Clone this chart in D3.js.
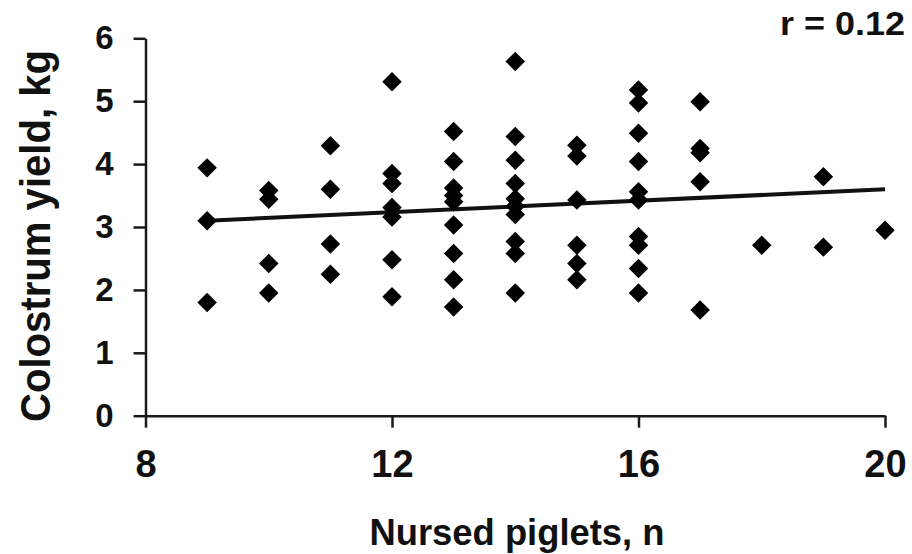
<!DOCTYPE html>
<html>
<head>
<meta charset="utf-8">
<script src="https://cdn.jsdelivr.net/npm/d3@7"></script>
<style>
  body { margin: 0; background: #fff; }
  svg text { font-family: "Liberation Sans", Arial, sans-serif; font-weight: bold; fill: #111; }
  .axis path, .axis line { stroke: #1a1a1a; stroke-width: 2.5; }
</style>
</head>
<body>
<div id="chart"></div>
<script>
// Nursed piglets (x) and colostrum yield in kg (y)
var nursed = [
  9, 9, 9,
  10, 10, 10, 10,
  11, 11, 11, 11,
  12, 12, 12, 12, 12, 12, 12,
  13, 13, 13, 13, 13, 13, 13, 13, 13,
  14, 14, 14, 14, 14, 14, 14, 14, 14, 14,
  15, 15, 15, 15, 15, 15,
  16, 16, 16, 16, 16, 16, 16, 16, 16, 16,
  17, 17, 17, 17, 17,
  18,
  19, 19,
  20
];
var yieldKg = [
  3.94, 3.10, 1.80,
  3.58, 3.44, 2.42, 1.95,
  4.29, 3.60, 2.73, 2.25,
  5.31, 3.85, 3.69, 3.31, 3.16, 2.48, 1.89,
  4.52, 4.04, 3.62, 3.50, 3.40, 3.03, 2.58, 2.16, 1.73,
  5.63, 4.44, 4.06, 3.69, 3.45, 3.33, 3.20, 2.77, 2.58, 1.95,
  4.30, 4.13, 3.43, 2.71, 2.42, 2.16,
  5.18, 4.97, 4.49, 4.04, 3.56, 3.43, 2.85, 2.71, 2.34, 1.95,
  4.99, 4.25, 4.18, 3.72, 1.68,
  2.71,
  3.80, 2.68,
  2.95
];

// fitted line end points
var fitX = [9, 20];
var fitY = [3.10, 3.60];

var xTicks = [8, 12, 16, 20];
var yTicks = [0, 1, 2, 3, 4, 5, 6];

var rLabel = "r = 0.12";
var xTitle = "Nursed piglets, n";
var yTitle = "Colostrum yield, kg";

var width = 912, height = 554;

var xScale = d3.scaleLinear().domain([8, 20]).range([145.5, 885]),
    yScale = d3.scaleLinear().domain([0, 6]).range([415.7, 38.3]);

var svg = d3.select("#chart").append("svg")
  .attr("width", width)
  .attr("height", height);

// axes
var xAxis = d3.axisBottom(xScale).tickValues(xTicks).tickFormat(d3.format("d"))
  .tickSize(12).tickSizeOuter(0).tickPadding(22);
var yAxis = d3.axisLeft(yScale).tickValues(yTicks).tickFormat(d3.format("d"))
  .tickSize(12).tickSizeOuter(0).tickPadding(20);

var gx = svg.append("g")
  .attr("class", "x axis")
  .attr("transform", "translate(0," + yScale(0) + ")")
  .call(xAxis);
gx.selectAll("text").style("font-size", "38px").attr("fill", "#111");

var gy = svg.append("g")
  .attr("class", "y axis")
  .attr("transform", "translate(" + xScale(8) + ",0)")
  .call(yAxis);
gy.selectAll("text").style("font-size", "33px").attr("fill", "#111");

// fitted line
var line = d3.line()
  .x(function(d) { return xScale(d[0]); })
  .y(function(d) { return yScale(d[1]); });

svg.append("path")
  .datum(d3.zip(fitX, fitY))
  .attr("d", line)
  .attr("fill", "none")
  .attr("stroke", "#111")
  .attr("stroke-width", 4);

// diamonds
var diamond = d3.symbol().type(d3.symbolSquare).size(190);

svg.append("g")
  .selectAll("path")
  .data(d3.zip(nursed, yieldKg))
  .enter().append("path")
  .attr("d", diamond)
  .attr("transform", function(d) {
    return "translate(" + xScale(d[0]) + "," + yScale(d[1]) + ") rotate(45)";
  })
  .attr("fill", "#000");

// titles
svg.append("text")
  .attr("x", 517)
  .attr("y", 545)
  .attr("text-anchor", "middle")
  .attr("textLength", 295)
  .attr("lengthAdjust", "spacingAndGlyphs")
  .style("font-size", "36px")
  .text(xTitle);

svg.append("text")
  .attr("transform", "translate(50,236) rotate(-90)")
  .attr("text-anchor", "middle")
  .attr("textLength", 372)
  .attr("lengthAdjust", "spacingAndGlyphs")
  .style("font-size", "42px")
  .text(yTitle);

svg.append("text")
  .attr("x", 905)
  .attr("y", 35)
  .attr("text-anchor", "end")
  .attr("textLength", 125)
  .attr("lengthAdjust", "spacingAndGlyphs")
  .style("font-size", "34px")
  .text(rLabel);
</script>
</body>
</html>
